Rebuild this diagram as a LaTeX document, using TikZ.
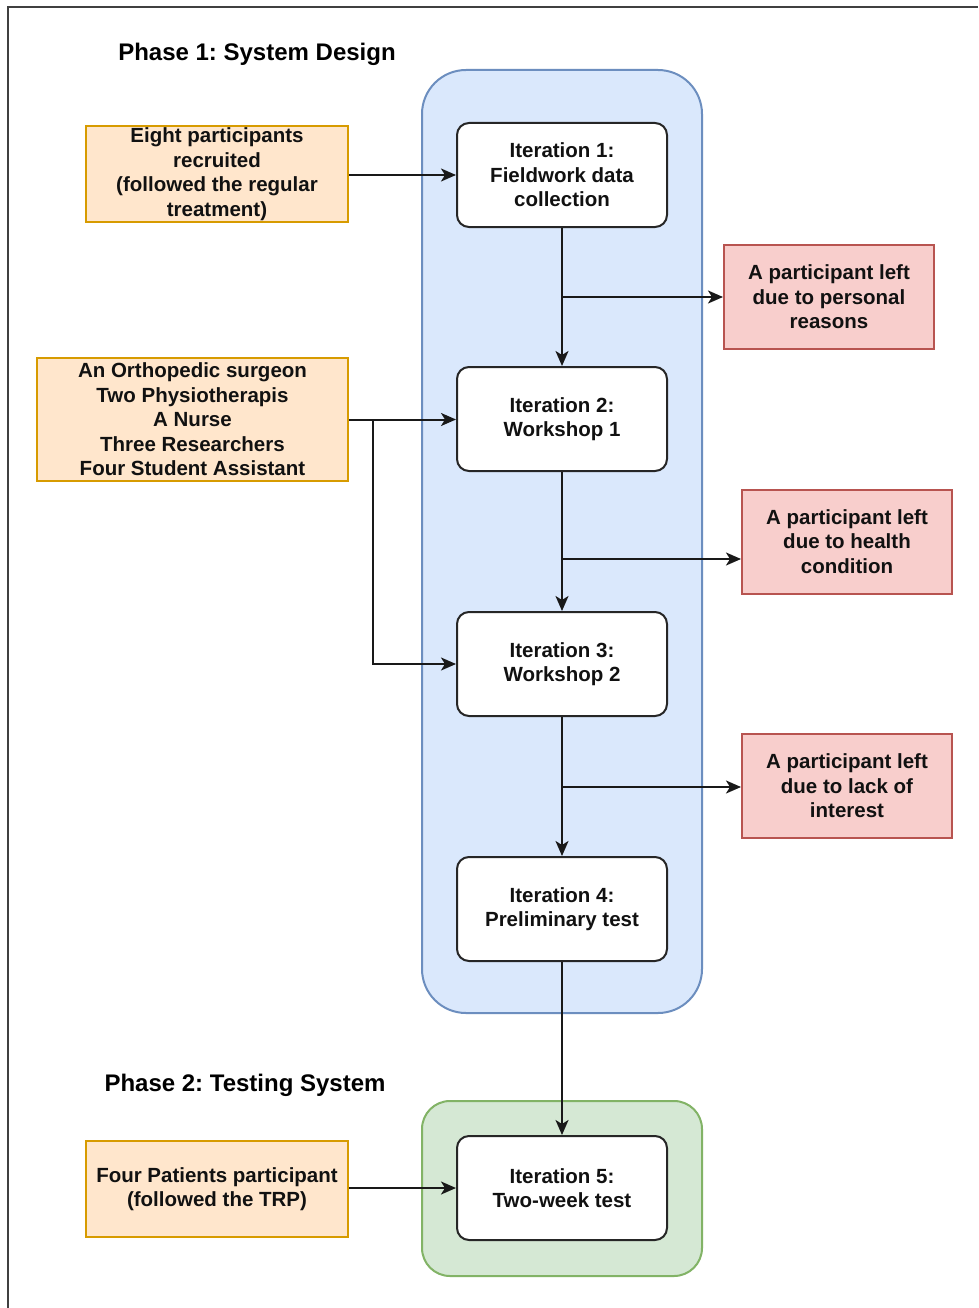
\documentclass[tikz,border=0pt]{standalone}
\usepackage{fontspec}
\setmainfont{Liberation Sans}
\frenchspacing
\usetikzlibrary{arrows.meta}
\definecolor{bluefill}{HTML}{DAE8FC}
\definecolor{bluedraw}{HTML}{6C8EBF}
\definecolor{greenfill}{HTML}{D5E8D4}
\definecolor{greendraw}{HTML}{82B366}
\definecolor{orangefill}{HTML}{FFE6CC}
\definecolor{orangedraw}{HTML}{D79B00}
\definecolor{redfill}{HTML}{F8CECC}
\definecolor{reddraw}{HTML}{B85450}
\definecolor{txt}{HTML}{111111}
\tikzset{
  base/.style={font=\fontsize{20.5}{24.5}\selectfont\bfseries, text=txt, align=center, inner sep=0pt, line width=2pt},
  iterbox/.style={base, draw=black!85, fill=white, rounded corners=12pt, minimum width=210pt, minimum height=104pt},
  inbox/.style={base, draw=orangedraw, fill=orangefill, line width=2pt},
  leftbox/.style={base, draw=reddraw, fill=redfill, line width=2pt, minimum width=210pt, minimum height=104pt},
  phase/.style={base, font=\fontsize{24}{28}\selectfont\bfseries, text=black},
  conn/.style={line width=2pt, draw=black!90, -{Stealth[length=15pt,width=13pt,inset=4pt]}},
}
\begin{document}
\begin{tikzpicture}[x=1pt,y=-1pt]
\useasboundingbox (0,0) rectangle (978,1308);
\fill[white] (0,0) rectangle (978,1308);
\draw[line width=2pt, black!75] (7.5,1308) -- (7.5,7.5) -- (978,7.5);

% containers
\draw[draw=bluedraw, fill=bluefill, line width=2pt, rounded corners=44pt] (422,70) rectangle (702,1013);
\draw[draw=greendraw, fill=greenfill, line width=2pt, rounded corners=28pt] (422,1101) rectangle (702,1276);

% titles
\node[phase] (t1) at (257,54) {Phase 1: System Design};
\node[phase] (t2) at (245,1085) {Phase 2: Testing System};

% iteration nodes
\node[iterbox] (i1) at (562,175) {Iteration 1:\\Fieldwork data\\collection};
\node[iterbox] (i2) at (562,419) {Iteration 2:\\Workshop 1};
\node[iterbox] (i3) at (562,664) {Iteration 3:\\Workshop 2};
\node[iterbox] (i4) at (562,909) {Iteration 4:\\Preliminary test};
\node[iterbox] (i5) at (562,1188) {Iteration 5:\\Two-week test};

% input boxes
\node[inbox, minimum width=262pt, minimum height=95pt] (b1) at (217,174) {Eight participants\\recruited\\(followed the regular\\treatment)};
\node[inbox, minimum width=311pt, minimum height=123pt] (b2) at (192.5,419.5) {An Orthopedic surgeon\\Two Physiotherapis\\A Nurse\\Three Researchers\\Four Student Assistant};
\node[inbox, minimum width=262pt, minimum height=96pt] (b3) at (217,1189) {Four Patients participant\\(followed the TRP)};

% leaving boxes
\node[leftbox] (r1) at (829,297) {A participant left\\due to personal\\reasons};
\node[leftbox] (r2) at (847,541.5) {A participant left\\due to health\\condition};
\node[leftbox] (r3) at (847,786) {A participant left\\due to lack of\\interest};

% branch points
\coordinate (p1) at (562,297);
\coordinate (p2) at (562,559);
\coordinate (p3) at (562,787);
\coordinate (q) at (373,420);
\coordinate (q2) at (373,664);

% connectors
\draw[conn] (b1.east |- i1.west) -- (i1.west);
\draw[conn] (i1.south) -- (i2.north);
\draw[conn] (p1) -- (r1.west);
\draw[conn] (i2.south) -- (i3.north);
\draw[conn] (p2) -- (r2.west |- p2);
\draw[conn] (i3.south) -- (i4.north);
\draw[conn] (p3) -- (r3.west |- p3);
\draw[conn] (i4.south) -- (i5.north);
\draw[conn] (b2.east) -- (i2.west |- b2.east);
\draw[conn] (q) -- (q2) -- (i3.west);
\draw[conn] (b3.east |- i5.west) -- (i5.west);
\end{tikzpicture}
\end{document}
